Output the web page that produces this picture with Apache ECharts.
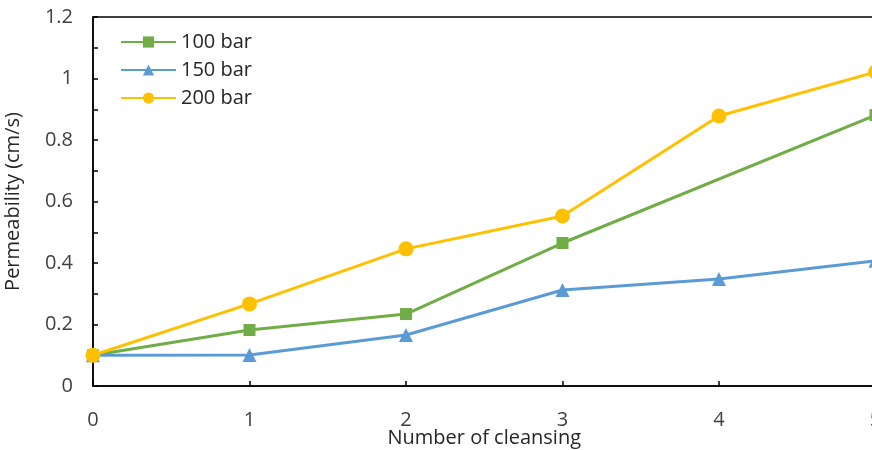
<!DOCTYPE html>
<html><head><meta charset="utf-8">
<script src="https://cdn.jsdelivr.net/npm/echarts@6/dist/echarts.min.js"></script>
<style>html,body{margin:0;padding:0;background:#fff}#c{width:872px;height:450px}</style>
</head><body><div id="c"></div>
<script>
const cleansings = [0, 1, 2, 3, 4, 5];
const bar100 = [0.10, 0.182, 0.234, 0.465, null, 0.881];
const bar150 = [0.10, 0.101, 0.166, 0.312, 0.348, 0.407];
const bar200 = [0.10, 0.267, 0.446, 0.553, 0.878, 1.021];
const yTicks = [0, 0.2, 0.4, 0.6, 0.8, 1, 1.2];

const font = 'Open Sans';
const pts = arr => cleansings.map((x, i) => [x, arr[i]]);
const chart = echarts.init(document.getElementById('c'));
chart.setOption({
  animation: false,
  textStyle: {fontFamily: font},
  grid: {left: 93, top: 17, width: 782.5, height: 369, show: true, borderColor: '#000', borderWidth: 1.5,
         outerBoundsMode: 'none', containLabel: false},
  legend: {
    orient: 'vertical', left: 120, top: 32, padding: 0, itemWidth: 55, itemHeight: 14, itemGap: 8,
    textStyle: {fontSize: 20, color: '#262626', fontFamily: font},
    data: ['100 bar', '150 bar', '200 bar']
  },
  xAxis: {
    type: 'value', min: 0, max: 5, interval: 1,
    name: 'Number of cleansing', nameLocation: 'middle', nameGap: 42, nameMoveOverlap: false,
    nameTextStyle: {fontSize: 20, color: '#262626'},
    axisLine: {lineStyle: {color: '#000', width: 1.5}},
    axisTick: {inside: true, length: 5, lineStyle: {color: '#000', width: 1.5}},
    axisLabel: {fontSize: 20, color: '#404040', margin: 24},
    splitLine: {show: false}
  },
  yAxis: {
    type: 'value', min: yTicks[0], max: yTicks[yTicks.length - 1], interval: 0.2,
    name: 'Permeability (cm/s)', nameLocation: 'middle', nameGap: 70, nameRotate: 90, nameMoveOverlap: false,
    nameTextStyle: {fontSize: 20, color: '#262626'},
    axisLine: {lineStyle: {color: '#000', width: 1.5}},
    axisTick: {inside: true, length: 5, lineStyle: {color: '#000', width: 1.5}},
    minorTick: {show: true, splitNumber: 2, length: 5, lineStyle: {color: '#000', width: 1.5}},
    axisLabel: {fontSize: 20, color: '#404040', margin: 20},
    splitLine: {show: false}
  },
  series: [
    {name: '100 bar', type: 'line', data: pts(bar100), connectNulls: true,
     symbol: 'rect', symbolSize: 12, itemStyle: {color: '#70AD47'}, lineStyle: {width: 3}},
    {name: '150 bar', type: 'line', data: pts(bar150),
     symbol: 'triangle', symbolSize: 14, itemStyle: {color: '#5B9BD5'}, lineStyle: {width: 3}},
    {name: '200 bar', type: 'line', data: pts(bar200),
     symbol: 'circle', symbolSize: 15, itemStyle: {color: '#FFC000'}, lineStyle: {width: 3}}
  ]
});
</script></body></html>
